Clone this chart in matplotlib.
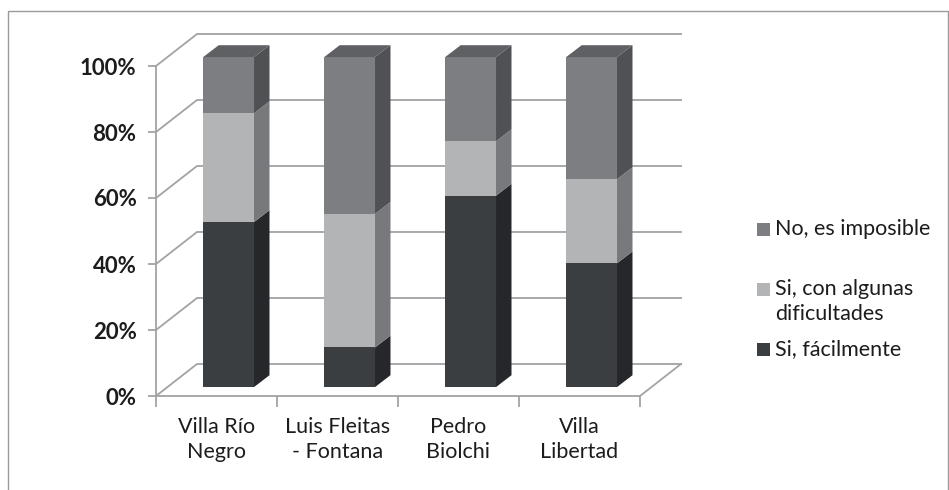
import numpy as np
from matplotlib import pyplot as plt
from matplotlib.patches import Polygon, Rectangle

categories = ['Villa Río\nNegro', 'Luis Fleitas\n- Fontana', 'Pedro\nBiolchi', 'Villa\nLibertad']
facil = [50, 12, 58, 37.5]
dificultades = [33, 40.5, 16.5, 25.5]
imposible = [17, 47.5, 25.5, 37]
y_ticks = [0, 20, 40, 60, 80, 100]
y_labels = ['0%', '20%', '40%', '60%', '80%', '100%']

W, H = 949, 490
plt.rcParams['font.family'] = ['Lato', 'DejaVu Sans']
text_color = '#1c1c1c'
grid_color = '#a3a3a5'

fig = plt.figure(figsize=(W / 100, H / 100), dpi=100, facecolor='white')
# marco del grafico
fig.add_artist(Rectangle((8 / W, -0.01), 940 / W, 1 - 11 / H + 0.01, transform=fig.transFigure,
                         fill=False, edgecolor='#9a9a9a', linewidth=1))

ax = fig.add_axes([156 / W, (H - 396) / H, 484 / W, 330 / H])
ax.set_xlim(0, 4)
ax.set_ylim(0, 100)
ax.patch.set_alpha(0)

# profundidad del piso / pared, de la barra y desplazamiento de la barra
grid_dx, grid_dy = 0.339, 9.7
bar_dx, bar_dy = 0.128, 3.6
off_x, off_y = 0.10, 2.7
bar_w = 0.42

# paredes
for v in y_ticks:
    ax.plot([0, grid_dx, 4 + grid_dx], [v, v + grid_dy, v + grid_dy], color=grid_color, lw=1.3,
            clip_on=False, zorder=1, solid_joinstyle='miter')
ax.plot([4, 4 + grid_dx], [0, grid_dy], color=grid_color, lw=1.3, clip_on=False, zorder=1)

series = [
    (facil, '#3b3e41', '#25272a'),
    (dificultades, '#b3b4b6', '#77797c'),
    (imposible, '#7d7e82', '#4f5155'),
]

bottom = np.zeros(len(categories))
pos = np.arange(len(categories)) + 0.5 + off_x
for values, front, side in series:
    values = np.array(values)
    ax.bar(pos, values, bar_w, bottom=bottom + off_y, color=front, clip_on=False, zorder=3, linewidth=0)
    for x, b, v in zip(pos, bottom + off_y, values):
        r = x + bar_w / 2
        ax.add_patch(Polygon([(r, b), (r + bar_dx, b + bar_dy), (r + bar_dx, b + v + bar_dy), (r, b + v)],
                             facecolor=side, edgecolor='none', clip_on=False, zorder=3))
    bottom = bottom + values

# tapa superior de cada barra
for x, b in zip(pos, bottom + off_y):
    l, r = x - bar_w / 2, x + bar_w / 2
    ax.add_patch(Polygon([(l, b), (l + bar_dx, b + bar_dy), (r + bar_dx, b + bar_dy), (r, b)],
                         facecolor='#5f6063', edgecolor='none', clip_on=False, zorder=3))

for s in ['top', 'right']:
    ax.spines[s].set_visible(False)
for s in ['left', 'bottom']:
    ax.spines[s].set_color(grid_color)
    ax.spines[s].set_linewidth(1.3)

ax.set_yticks(y_ticks)
ax.set_yticklabels(y_labels, fontsize=16, fontweight='bold', color=text_color)
ax.set_xticks(range(5))
ax.set_xticklabels([])
ax.set_xticks(np.arange(4) + 0.5, minor=True)
ax.set_xticklabels(categories, minor=True, fontsize=15.5, color=text_color, linespacing=1.3)
ax.tick_params(axis='y', length=6, width=1.3, color=grid_color, pad=8)
ax.tick_params(axis='x', which='major', length=8, width=1.3, color=grid_color)
ax.tick_params(axis='x', which='minor', length=0, pad=15)

# leyenda
legend_items = [
    ('#7d7e82', 223, 'No, es imposible'),
    ('#b3b4b6', 283, 'Si, con algunas\ndificultades'),
    ('#3b3e41', 343, 'Si, fácilmente'),
]
for color, y, label in legend_items:
    fig.add_artist(Rectangle((757 / W, 1 - (y + 13) / H), 13 / W, 13 / H, transform=fig.transFigure,
                             facecolor=color, edgecolor='none'))
    fig.text(775 / W, 1 - (y - 4) / H, label, fontsize=15.5, color=text_color,
             va='top', ha='left', linespacing=1.3)

fig.savefig('out.png', dpi=100)
